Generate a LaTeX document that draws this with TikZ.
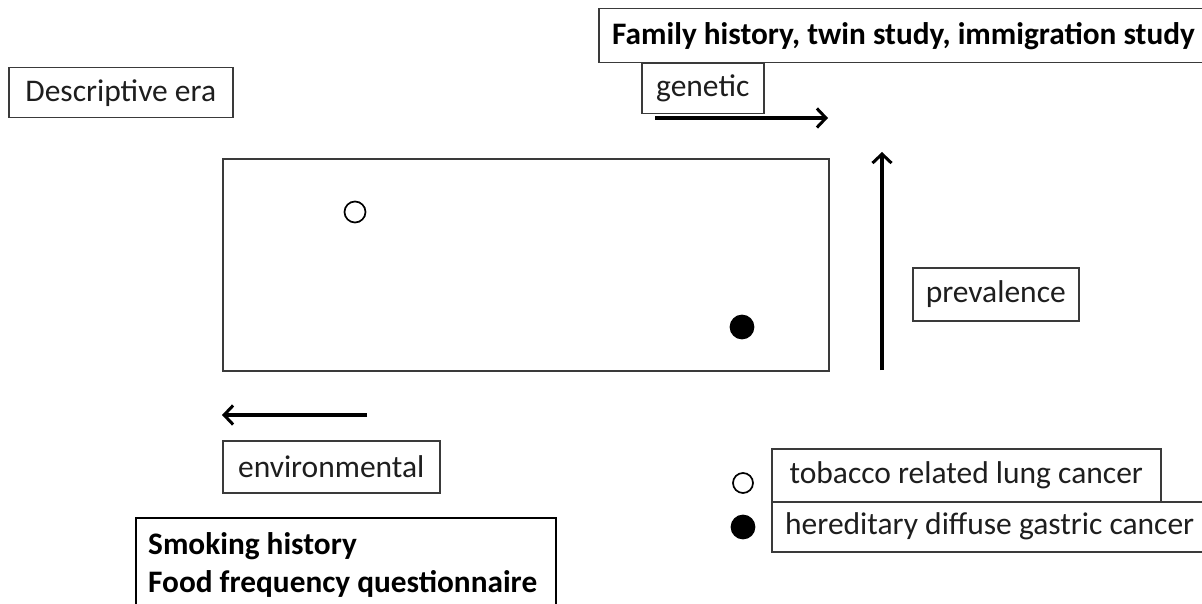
\documentclass[tikz,border=0pt]{standalone}
\usepackage{fontspec}
\setmainfont{Carlito}
\usetikzlibrary{arrows.meta}
\definecolor{boxgray}{HTML}{3A3A3A}
\definecolor{textgray}{HTML}{1E1E1E}
\begin{document}
\begin{tikzpicture}[x=1pt,y=-1pt,
  txt/.style={font=\fontsize{31.5}{38}\selectfont, text=textgray, inner sep=0pt},
  btxt/.style={font=\fontsize{31.3}{38}\selectfont\bfseries, text=black, inner sep=0pt},
  lbl/.style={txt, draw=boxgray, line width=1.5pt, anchor=north west},
  frame/.style={draw=boxgray, line width=1.5pt, anchor=north west, inner sep=0pt},
  arr/.style={line width=3.4pt, -{Straight Barb[length=9pt,width=19pt,line width=3pt]}},
  dot/.style={circle, draw=black, line width=1.7pt, inner sep=0pt, minimum size=21pt}]
\useasboundingbox (0,0) rectangle (1202,604);
\clip (0,0) rectangle (1202,604);
\fill[white] (0,0) rectangle (1202,604);

\node[lbl, minimum width=224pt, minimum height=50pt] (desc) at (8,67) {Descriptive era};

\node[frame, minimum width=620pt, minimum height=54pt] (family) at (598,8) {};
\node[btxt, anchor=west] (familytext) at (612,36) {Family history, twin study, immigration study};
\node[lbl, minimum width=122pt, minimum height=50pt] (gen) at (641,63) {genetic};
\coordinate (g1) at (655,118);
\coordinate (g2) at (828,118);
\draw[arr] (g1) -- (g2);

\node[frame, line width=1.9pt, minimum width=606pt, minimum height=212pt] (plot) at (222,158) {};
\node[dot] (p1) at (355,212) {};
\node[dot, fill=black, minimum size=23pt] (p2) at (742,327) {};

\coordinate (v1) at (882,370);
\coordinate (v2) at (882,152);
\draw[arr] (v1) -- (v2);
\node[lbl, minimum width=166pt, minimum height=53pt] (prev) at (912,267) {prevalence};

\coordinate (e1) at (367,415);
\coordinate (e2) at (222,415);
\draw[arr] (e1) -- (e2);
\node[lbl, minimum width=217pt, minimum height=52pt] (env) at (222,440) {environmental};

\node[frame, draw=black, line width=2.2pt, minimum width=420pt, minimum height=120pt] (smokebox) at (135,517) {};
\node[btxt, align=left, anchor=north west] (smoketext) at (148,532) {Smoking history\\Food frequency questionnaire};

\node[dot, minimum size=20pt] (l1) at (743,483) {};
\node[dot, fill=black, minimum size=23pt] (l2) at (743,527) {};
\node[lbl, minimum width=389pt, minimum height=53pt] (tob) at (771,448) {tobacco related lung cancer};
\node[frame, minimum width=460pt, minimum height=50pt] (her) at (771,501) {};
\node[txt, anchor=west] (hertext) at (785,526) {hereditary diffuse gastric cancer};
\end{tikzpicture}
\end{document}
